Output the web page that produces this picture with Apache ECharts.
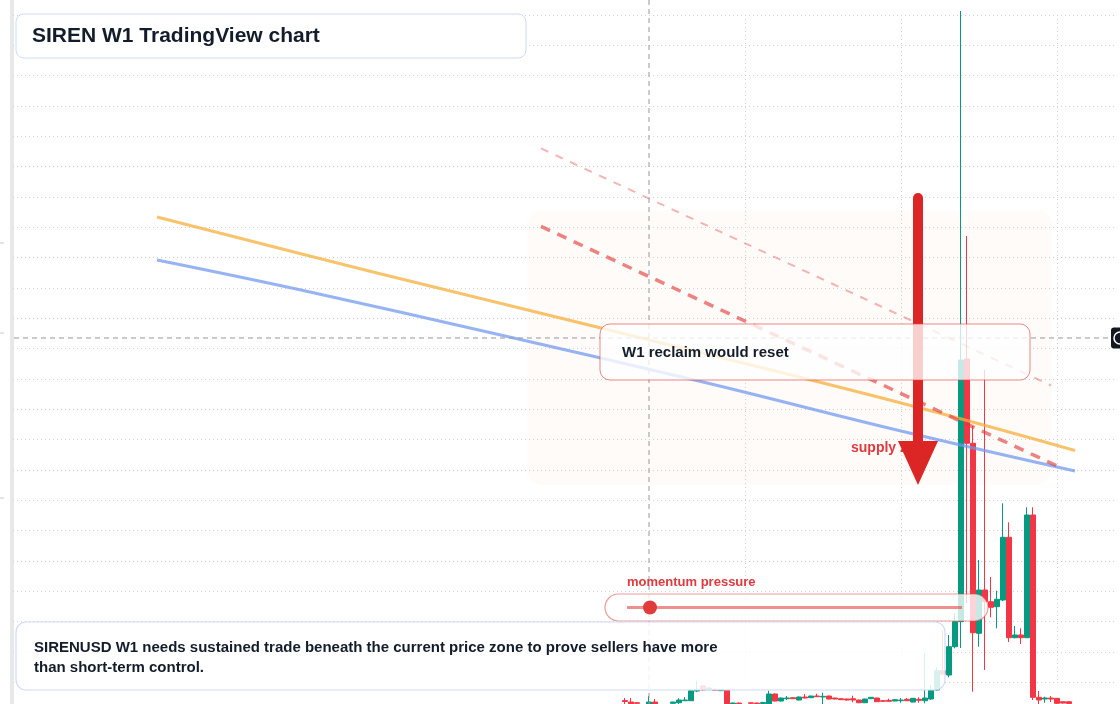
<!DOCTYPE html>
<html><head><meta charset="utf-8">
<script src="https://cdn.jsdelivr.net/npm/echarts@6/dist/echarts.min.js"></script>
<style>html,body{margin:0;padding:0;background:#fff}#c{width:1120px;height:704px}</style>
</head><body><div id="c"></div>
<script>
// ---------- text ----------
const TITLE = 'SIREN W1 TradingView chart';
const NOTE_LINES = ['SIRENUSD W1 needs sustained trade beneath the current price zone to prove sellers have more', 'than short-term control.'];
const RECLAIM_LABEL = 'W1 reclaim would reset';
const SUPPLY_LABEL = 'supply zone';
const MOMENTUM_LABEL = 'momentum pressure';

// ---------- time axis: weekly bars (index 0..184) ----------
const WEEK_COUNT = 185;
const FIRST_BAR = 102;                 // first traded week index
const weeks = Array.from({length: WEEK_COUNT}, (_, i) => 'Wk ' + (i + 1));

// ---------- price data: [open, close, low, high] per traded week (null = no bar) ----------
const weeklyOHLC = [
 [0.0399,0.0366,0.0284,0.0482],[0.0350,0.0284,0.0284,0.0482],[0.0327,0.0307,0.0300,0.0333],null,
 [0.0284,0.0350,0.0284,0.0548],[0.0350,0.0284,0.0284,0.0449],null,null,
 [0.0307,0.0350,0.0300,0.0350],[0.0327,0.0416,0.0284,0.0472],[0.0393,0.0416,0.0383,0.0515],
 [0.0393,0.0723,0.0383,0.0769],[0.0713,0.0746,0.0680,0.1053],[0.0878,0.0746,0.0730,0.0911],
 [0.0756,0.0812,0.0746,0.0845],[0.0769,0.0736,0.0730,0.0796],[0.0723,0.0769,0.0713,0.0779],
 [0.0746,0.0284,0.0284,0.0763],[0.0294,0.0317,0.0284,0.0333],[0.0317,0.0294,0.0284,0.0333],null,
 [0.0323,0.0307,0.0300,0.0333],[0.0317,0.0300,0.0284,0.0333],[0.0300,0.0333,0.0294,0.0360],
 [0.0284,0.0614,0.0284,0.0723],[0.0614,0.0383,0.0366,0.0631],[0.0383,0.0482,0.0366,0.0499],
 [0.0459,0.0482,0.0416,0.0548],[0.0492,0.0459,0.0449,0.0505],[0.0416,0.0515,0.0399,0.0532],
 [0.0515,0.0482,0.0472,0.0614],[0.0492,0.0548,0.0482,0.0558],[0.0548,0.0525,0.0515,0.0624],
 [0.0515,0.0538,0.0284,0.0657],[0.0548,0.0449,0.0439,0.0558],[0.0482,0.0449,0.0439,0.0492],
 [0.0459,0.0426,0.0416,0.0472],[0.0449,0.0416,0.0399,0.0459],[0.0459,0.0416,0.0340,0.0558],
 [0.0416,0.0327,0.0317,0.0426],[0.0327,0.0449,0.0317,0.0459],[0.0459,0.0505,0.0449,0.0515],
 [0.0482,0.0360,0.0350,0.0492],[0.0393,0.0373,0.0360,0.0406],[0.0406,0.0373,0.0360,0.0459],
 [0.0383,0.0426,0.0373,0.0439],[0.0393,0.0416,0.0327,0.0482],[0.0439,0.0393,0.0383,0.0482],
 [0.0350,0.0472,0.0340,0.0482],[0.0439,0.0406,0.0327,0.0505],[0.0393,0.0482,0.0307,0.1966],
 [0.0449,0.0746,0.0416,0.0911],[0.0746,0.1382,0.0723,0.1514],[0.1382,0.1273,0.1240,0.2725],
 [0.1240,0.2174,0.1165,0.2560],[0.2174,0.2999,0.2121,0.3276],[0.2999,1.1626,0.2131,2.3133],
 [1.1659,0.8880,0.3615,1.5715],[0.8880,0.2635,0.0690,0.9450],[0.2615,0.4043,0.2174,0.5032],
 [0.4043,0.3657,0.1405,1.1297],[0.3657,0.3473,0.3143,0.4472],[0.3493,0.3737,0.2780,0.4020],
 [0.3713,0.5781,0.3680,0.6902],[0.5781,0.2470,0.2329,0.6275],[0.2470,0.2560,0.2451,0.2856],
 [0.2560,0.2470,0.2263,0.2780],[0.2470,0.6516,0.2461,0.6770],[0.6516,0.0505,0.0416,0.6770],
 [0.0505,0.0416,0.0284,0.0713],[0.0449,0.0482,0.0327,0.0525],[0.0482,0.0449,0.0350,0.0548],
 [0.0472,0.0307,0.0284,0.0482],[0.0360,0.0317,0.0300,0.0366],[0.0360,0.0300,0.0284,0.0366]
];

// ---------- overlays: [week index, price] ----------
const orangeTrend = [[24,1.6341],[60,1.4528],[98,1.2682],[148,1.0209],[177,0.8643]];
const blueTrend   = [[24,1.4924],[48,1.3934],[82,1.2418],[115,1.0901],[148,0.9286],[177,0.7967]];
const supplyUpper = [[88,1.8603],[173,1.0786]];
const supplyLower = [[88,1.6031],[174,0.8135]];
const crosshair   = [106, 1.2352];

// ---------- price axis ----------
const PRICE_MIN = 0.1, PRICE_MAX = 2.3, PRICE_STEP = 0.1;
const TIME_GRID_FIRST = 122, TIME_GRID_STEP = 26;

const candleData = weeks.map((_, i) => {
  const k = i - FIRST_BAR;
  const row = (k >= 0 && k < weeklyOHLC.length) ? weeklyOHLC[k] : null;
  return row ? row : '-';
});

const FONT = '"Liberation Sans", Arial, sans-serif';
const GREEN = '#089981', RED = '#f23645';
const dotted = {color: '#cfd1d4', width: 1, type: [1, 3]};

const chart = echarts.init(document.getElementById('c'), null, {renderer: 'canvas'});
const option = {
  animation: false,
  backgroundColor: '#ffffff',
  grid: {left: 13, right: 3, top: 15, bottom: 21.7, containLabel: false},
  xAxis: {
    type: 'category', data: weeks, boundaryGap: false, z: 1,
    axisLine: {show: false}, axisTick: {show: false}, axisLabel: {show: false},
    splitLine: {show: true, lineStyle: dotted,
      interval: (idx) => idx >= TIME_GRID_FIRST && (idx - TIME_GRID_FIRST) % TIME_GRID_STEP === 0}
  },
  yAxis: {
    type: 'value', min: PRICE_MIN, max: PRICE_MAX, interval: PRICE_STEP, z: 1,
    axisLine: {show: false}, axisTick: {show: false}, axisLabel: {show: false},
    splitLine: {show: true, lineStyle: dotted}
  },
  series: [
    {type: 'candlestick', data: candleData, barWidth: 5, clip: false, z: 2,
     itemStyle: {color: GREEN, color0: RED, borderColor: GREEN, borderColor0: RED, borderWidth: 1}},
    {type: 'line', data: orangeTrend, smooth: 0.4, symbol: 'none', clip: false, z: 3,
     lineStyle: {color: 'rgba(245,175,60,0.75)', width: 3}},
    {type: 'line', data: blueTrend, smooth: 0.4, symbol: 'none', clip: false, z: 3,
     lineStyle: {color: 'rgba(110,150,240,0.72)', width: 3}},
    {type: 'line', data: supplyUpper, symbol: 'none', clip: false, z: 3,
     lineStyle: {color: 'rgba(230,70,70,0.40)', width: 2, type: [8, 8]}},
    {type: 'line', data: supplyLower, symbol: 'none', clip: false, z: 3,
     lineStyle: {color: 'rgba(228,55,55,0.62)', width: 3.5, type: [10, 8]}}
  ]
};
chart.setOption(option);

const [cx, cy] = chart.convertToPixel({gridIndex: 0}, crosshair);
const g = [];
// left gutter strip and ticks
g.push({type: 'rect', z: 0, shape: {x: 10, y: 0, width: 4, height: 704}, style: {fill: '#e8e8e8'}});
[243, 333, 498].forEach(y => g.push({type: 'line', z: 0, shape: {x1: 0, y1: y, x2: 4, y2: y}, style: {stroke: '#c8c8c8', lineWidth: 1}}));
// supply zone shading
g.push({type: 'rect', z: 0, shape: {x: 527, y: 210, width: 525, height: 275, r: 16}, style: {fill: 'rgba(250,228,210,0.16)'}});
// crosshair
g.push({type: 'line', z: 4, shape: {x1: cx, y1: 0, x2: cx, y2: 704}, style: {stroke: '#9598a1', lineWidth: 1, lineDash: [5, 4]}});
g.push({type: 'line', z: 4, shape: {x1: 14, y1: cy, x2: 1110, y2: cy}, style: {stroke: '#9598a1', lineWidth: 1, lineDash: [5, 4]}});
g.push({type: 'rect', z: 12, shape: {x: 1111, y: cy - 10.5, width: 20, height: 21, r: 3}, style: {fill: '#131722'}});
g.push({type: 'circle', z: 13, shape: {cx: 1120, cy: cy, r: 6}, style: {fill: 'none', stroke: '#ffffff', lineWidth: 1.5}});
// supply label + arrow
g.push({type: 'text', z: 5, style: {text: SUPPLY_LABEL, x: 851, y: 448, font: 'bold 14px ' + FONT, fill: '#e0393e', align: 'left', verticalAlign: 'middle'}});
g.push({type: 'line', z: 6, shape: {x1: 918, y1: 198, x2: 918, y2: 446}, style: {stroke: '#dc2626', lineWidth: 10, lineCap: 'round'}});
g.push({type: 'polygon', z: 6, shape: {points: [[898, 441], [938, 441], [918, 485]]}, style: {fill: '#dc2626'}});
// reclaim box
g.push({type: 'rect', z: 10, shape: {x: 600, y: 324, width: 430, height: 56, r: 10}, style: {fill: 'rgba(255,255,255,0.78)', stroke: 'rgba(230,70,70,0.65)', lineWidth: 1}});
g.push({type: 'text', z: 11, style: {text: RECLAIM_LABEL, x: 622, y: 353, font: 'bold 15px ' + FONT, fill: '#131c2b', align: 'left', verticalAlign: 'middle'}});
// momentum gauge
g.push({type: 'text', z: 11, style: {text: MOMENTUM_LABEL, x: 627, y: 582, font: 'bold 13px ' + FONT, fill: '#e0393e', align: 'left', verticalAlign: 'middle'}});
g.push({type: 'rect', z: 10, shape: {x: 605, y: 594, width: 383, height: 27, r: 13.5}, style: {fill: 'rgba(255,255,255,0.78)', stroke: 'rgba(230,70,70,0.55)', lineWidth: 1.2}});
g.push({type: 'line', z: 11, shape: {x1: 627, y1: 607.5, x2: 962, y2: 607.5}, style: {stroke: 'rgba(228,70,70,0.6)', lineWidth: 3}});
g.push({type: 'circle', z: 12, shape: {cx: cx + 1, cy: 607.5, r: 7}, style: {fill: '#e03c3c'}});
// title box
g.push({type: 'rect', z: 10, shape: {x: 16, y: 14, width: 510, height: 44, r: 8}, style: {fill: '#ffffff', stroke: '#cddcf4', lineWidth: 1}});
g.push({type: 'text', z: 11, style: {text: TITLE, x: 32, y: 36, font: 'bold 21px ' + FONT, fill: '#131c2b', align: 'left', verticalAlign: 'middle'}});
// note box
g.push({type: 'rect', z: 10, shape: {x: 16, y: 622, width: 929, height: 68, r: 10}, style: {fill: 'rgba(255,255,255,0.85)', stroke: '#cddcf4', lineWidth: 1.2}});
NOTE_LINES.forEach((t, i) => g.push({type: 'text', z: 11, style: {text: t, x: 34, y: 648 + i * 20, font: 'bold 15px ' + FONT, fill: '#131c2b', align: 'left', verticalAlign: 'middle'}}));

chart.setOption({graphic: g});
</script>
</body></html>
